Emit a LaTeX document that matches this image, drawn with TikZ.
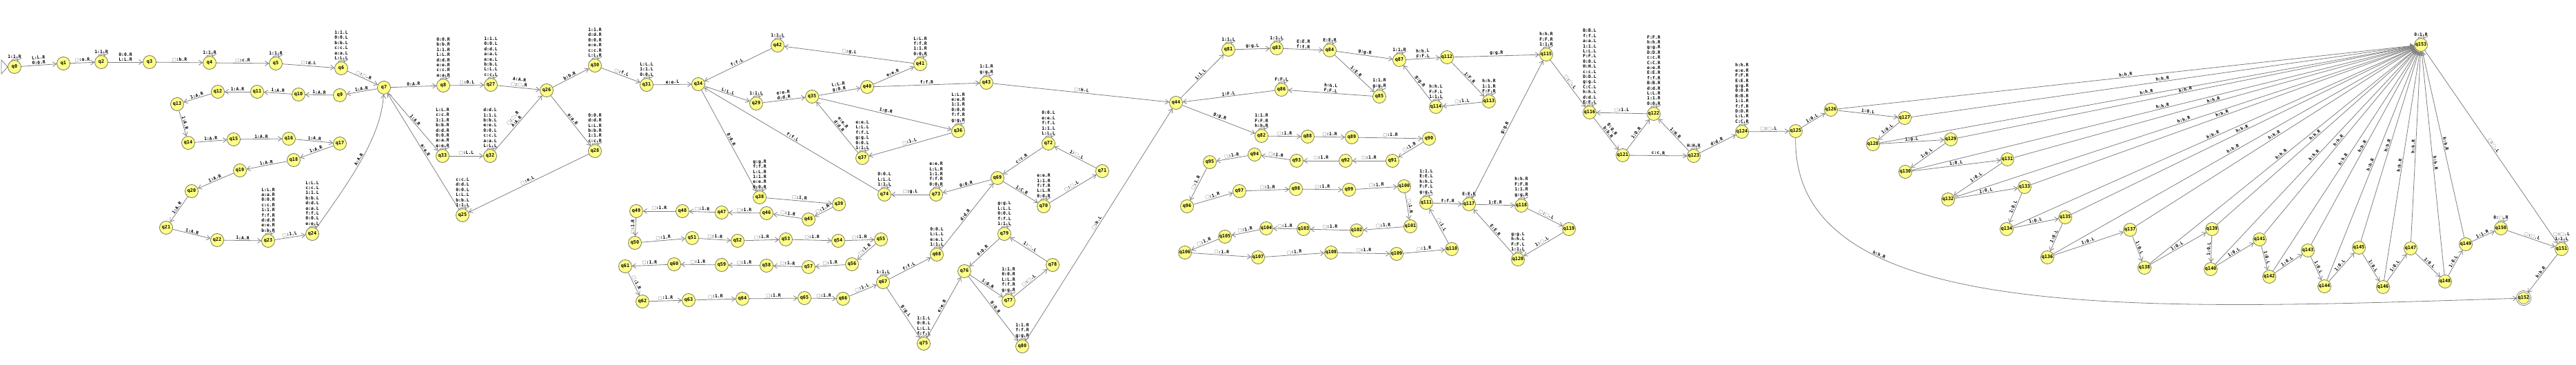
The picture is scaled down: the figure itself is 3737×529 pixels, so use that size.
\documentclass[tikz,border=0pt]{standalone}
\usepackage{fontspec}
\setmonofont{DejaVu Sans Mono}
\newfontfamily\blankfont{DejaVu Sans}
\usetikzlibrary{arrows.meta}
\definecolor{stfill}{RGB}{255,255,136}
\definecolor{stline}{RGB}{120,120,96}
\definecolor{edgegray}{RGB}{128,128,128}
\newcommand{\blk}{{\blankfont\mdseries\textcolor{edgegray}{□}}}
\begin{document}
\begin{tikzpicture}[x=0.5pt,y=0.5pt,
	tmstate/.style={circle,draw=stline,fill=stfill,line width=0.4pt,minimum size=9.5pt,inner sep=0pt,font=\ttfamily\bfseries\fontsize{3.4}{4}\selectfont},
	tmedge/.style={draw=edgegray,line width=0.4pt,-{Straight Barb[length=2.5pt,width=3.5pt]}},
	lbl/.style={font=\ttfamily\bfseries\fontsize{3.2}{3.7}\selectfont,sloped,auto,inner sep=0.5pt,align=center},
	looplbl/.style={font=\ttfamily\bfseries\fontsize{3.2}{3.7}\selectfont,above,inner sep=0.5pt,align=center},
	tmloop/.style={loop,out=115,in=65},
	every loop/.style={min distance=10pt,looseness=1}]
		\useasboundingbox (0,0) rectangle (3737,-529);
		% states
		\node[tmstate] (q0) at (21,-97) {q0};
		\node[tmstate] (q1) at (92,-92) {q1};
		\node[tmstate] (q2) at (147,-90) {q2};
		\node[tmstate] (q3) at (217,-90) {q3};
		\node[tmstate] (q4) at (304,-91) {q4};
		\node[tmstate] (q5) at (400,-92) {q5};
		\node[tmstate] (q6) at (495,-99) {q6};
		\node[tmstate] (q7) at (557,-127) {q7};
		\node[tmstate] (q8) at (643,-124) {q8};
		\node[tmstate] (q9) at (493,-138) {q9};
		\node[tmstate] (q10) at (433,-137) {q10};
		\node[tmstate] (q11) at (373,-133) {q11};
		\node[tmstate] (q12) at (316,-133) {q12};
		\node[tmstate] (q13) at (257,-151) {q13};
		\node[tmstate] (q14) at (273,-207) {q14};
		\node[tmstate] (q15) at (339,-202) {q15};
		\node[tmstate] (q16) at (419,-201) {q16};
		\node[tmstate] (q17) at (493,-208) {q17};
		\node[tmstate] (q18) at (426,-232) {q18};
		\node[tmstate] (q19) at (348,-247) {q19};
		\node[tmstate] (q20) at (278,-277) {q20};
		\node[tmstate] (q21) at (241,-330) {q21};
		\node[tmstate] (q22) at (315,-348) {q22};
		\node[tmstate] (q23) at (389,-349) {q23};
		\node[tmstate] (q24) at (453,-339) {q24};
		\node[tmstate] (q25) at (671,-312) {q25};
		\node[tmstate] (q26) at (793,-131) {q26};
		\node[tmstate] (q27) at (712,-123) {q27};
		\node[tmstate] (q28) at (863,-219) {q28};
		\node[tmstate] (q29) at (1097,-150) {q29};
		\node[tmstate] (q30) at (863,-95) {q30};
		\node[tmstate] (q31) at (938,-123) {q31};
		\node[tmstate] (q32) at (711,-226) {q32};
		\node[tmstate] (q33) at (642,-226) {q33};
		\node[tmstate] (q34) at (1013,-122) {q34};
		\node[tmstate] (q35) at (1178,-140) {q35};
		\node[tmstate] (q36) at (1390,-190) {q36};
		\node[tmstate] (q37) at (1251,-229) {q37};
		\node[tmstate] (q38) at (1102,-286) {q38};
		\node[tmstate] (q39) at (1217,-296) {q39};
		\node[tmstate] (q40) at (1258,-126) {q40};
		\node[tmstate] (q41) at (1335,-93) {q41};
		\node[tmstate] (q42) at (1128,-66) {q42};
		\node[tmstate] (q43) at (1431,-120) {q43};
		\node[tmstate] (q44) at (1706,-149) {q44};
		\node[tmstate] (q45) at (1173,-318) {q45};
		\node[tmstate] (q46) at (1112,-309) {q46};
		\node[tmstate] (q47) at (1047,-308) {q47};
		\node[tmstate] (q48) at (990,-306) {q48};
		\node[tmstate] (q49) at (923,-306) {q49};
		\node[tmstate] (q50) at (921,-352) {q50};
		\node[tmstate] (q51) at (1004,-345) {q51};
		\node[tmstate] (q52) at (1070,-349) {q52};
		\node[tmstate] (q53) at (1140,-347) {q53};
		\node[tmstate] (q54) at (1216,-349) {q54};
		\node[tmstate] (q55) at (1278,-347) {q55};
		\node[tmstate] (q56) at (1236,-383) {q56};
		\node[tmstate] (q57) at (1173,-387) {q57};
		\node[tmstate] (q58) at (1112,-385) {q58};
		\node[tmstate] (q59) at (1047,-384) {q59};
		\node[tmstate] (q60) at (978,-383) {q60};
		\node[tmstate] (q61) at (907,-386) {q61};
		\node[tmstate] (q62) at (932,-437) {q62};
		\node[tmstate] (q63) at (999,-435) {q63};
		\node[tmstate] (q64) at (1077,-433) {q64};
		\node[tmstate] (q65) at (1167,-432) {q65};
		\node[tmstate] (q66) at (1223,-433) {q66};
		\node[tmstate] (q67) at (1281,-409) {q67};
		\node[tmstate] (q68) at (1359,-369) {q68};
		\node[tmstate] (q69) at (1447,-258) {q69};
		\node[tmstate] (q70) at (1514,-299) {q70};
		\node[tmstate] (q71) at (1599,-248) {q71};
		\node[tmstate] (q72) at (1521,-208) {q72};
		\node[tmstate] (q73) at (1358,-282) {q73};
		\node[tmstate] (q74) at (1283,-282) {q74};
		\node[tmstate] (q75) at (1340,-498) {q75};
		\node[tmstate] (q76) at (1399,-393) {q76};
		\node[tmstate] (q77) at (1463,-436) {q77};
		\node[tmstate] (q78) at (1527,-384) {q78};
		\node[tmstate] (q79) at (1457,-339) {q79};
		\node[tmstate] (q80) at (1483,-502) {q80};
		\node[tmstate] (q81) at (1782,-72) {q81};
		\node[tmstate] (q82) at (1830,-197) {q82};
		\node[tmstate] (q83) at (1852,-70) {q83};
		\node[tmstate] (q84) at (1929,-73) {q84};
		\node[tmstate] (q85) at (2001,-140) {q85};
		\node[tmstate] (q86) at (1859,-130) {q86};
		\node[tmstate] (q87) at (2030,-87) {q87};
		\node[tmstate] (q88) at (1897,-198) {q88};
		\node[tmstate] (q89) at (1961,-199) {q89};
		\node[tmstate] (q90) at (2073,-201) {q90};
		\node[tmstate] (q91) at (2020,-233) {q91};
		\node[tmstate] (q92) at (1952,-233) {q92};
		\node[tmstate] (q93) at (1881,-233) {q93};
		\node[tmstate] (q94) at (1820,-224) {q94};
		\node[tmstate] (q95) at (1755,-235) {q95};
		\node[tmstate] (q96) at (1722,-299) {q96};
		\node[tmstate] (q97) at (1798,-277) {q97};
		\node[tmstate] (q98) at (1880,-274) {q98};
		\node[tmstate] (q99) at (1957,-275) {q99};
		\node[tmstate] (q100) at (2037,-270) {q100};
		\node[tmstate] (q101) at (2046,-328) {q101};
		\node[tmstate] (q102) at (1968,-334) {q102};
		\node[tmstate] (q103) at (1891,-332) {q103};
		\node[tmstate] (q104) at (1837,-331) {q104};
		\node[tmstate] (q105) at (1777,-343) {q105};
		\node[tmstate] (q106) at (1719,-366) {q106};
		\node[tmstate] (q107) at (1825,-373) {q107};
		\node[tmstate] (q108) at (1931,-366) {q108};
		\node[tmstate] (q109) at (2026,-368) {q109};
		\node[tmstate] (q110) at (2106,-361) {q110};
		\node[tmstate] (q111) at (2069,-294) {q111};
		\node[tmstate] (q112) at (2099,-83) {q112};
		\node[tmstate] (q113) at (2160,-147) {q113};
		\node[tmstate] (q114) at (2083,-155) {q114};
		\node[tmstate] (q115) at (2243,-79) {q115};
		\node[tmstate] (q116) at (2306,-163) {q116};
		\node[tmstate] (q117) at (2131,-296) {q117};
		\node[tmstate] (q118) at (2207,-298) {q118};
		\node[tmstate] (q119) at (2276,-332) {q119};
		\node[tmstate] (q120) at (2202,-376) {q120};
		\node[tmstate] (q121) at (2354,-225) {q121};
		\node[tmstate] (q122) at (2399,-165) {q122};
		\node[tmstate] (q123) at (2457,-226) {q123};
		\node[tmstate] (q124) at (2527,-191) {q124};
		\node[tmstate] (q125) at (2605,-190) {q125};
		\node[tmstate] (q126) at (2656,-159) {q126};
		\node[tmstate] (q127) at (2763,-171) {q127};
		\node[tmstate] (q128) at (2717,-209) {q128};
		\node[tmstate] (q129) at (2830,-202) {q129};
		\node[tmstate] (q130) at (2764,-249) {q130};
		\node[tmstate] (q131) at (2912,-231) {q131};
		\node[tmstate] (q132) at (2826,-289) {q132};
		\node[tmstate] (q133) at (2937,-271) {q133};
		\node[tmstate] (q134) at (2911,-332) {q134};
		\node[tmstate] (q135) at (2996,-315) {q135};
		\node[tmstate] (q136) at (2970,-373) {q136};
		\node[tmstate] (q137) at (3090,-333) {q137};
		\node[tmstate] (q138) at (3111,-388) {q138};
		\node[tmstate] (q139) at (3209,-332) {q139};
		\node[tmstate] (q140) at (3207,-390) {q140};
		\node[tmstate] (q141) at (3278,-347) {q141};
		\node[tmstate] (q142) at (3292,-401) {q142};
		\node[tmstate] (q143) at (3348,-363) {q143};
		\node[tmstate] (q144) at (3372,-415) {q144};
		\node[tmstate] (q145) at (3422,-359) {q145};
		\node[tmstate] (q146) at (3457,-416) {q146};
		\node[tmstate] (q147) at (3497,-360) {q147};
		\node[tmstate] (q148) at (3547,-408) {q148};
		\node[tmstate] (q149) at (3577,-354) {q149};
		\node[tmstate] (q150) at (3628,-331) {q150};
		\node[tmstate] (q151) at (3716,-361) {q151};
		\node[tmstate,double,double distance=0.7pt] (q152) at (3661,-432) {q152};
		\node[tmstate] (q153) at (3512,-65) {q153};
		% start marker
		\coordinate (init1) at (2,-87);
		\coordinate (init2) at (2,-107);
		\draw[draw=edgegray,line width=0.4pt] (q0.west) -- (init1) -- (init2) -- cycle;
		% marking the input
		\draw[tmedge] (q0) to[tmloop] node[looplbl]{1:1.R} (q0);
		\draw[tmedge] (q0) -- node[lbl]{L:L.R\\0:0.R} (q1);
		\draw[tmedge] (q1) -- node[lbl]{\blk:a.R} (q2);
		\draw[tmedge] (q2) to[tmloop] node[looplbl]{1:1.R} (q2);
		\draw[tmedge] (q2) -- node[lbl]{0:0.R\\L:L.R} (q3);
		\draw[tmedge] (q3) -- node[lbl]{\blk:b.R} (q4);
		\draw[tmedge] (q4) to[tmloop] node[looplbl]{1:1.R} (q4);
		\draw[tmedge] (q4) -- node[lbl]{\blk:c.R} (q5);
		\draw[tmedge] (q5) to[tmloop] node[looplbl]{1:1.R} (q5);
		\draw[tmedge] (q5) -- node[lbl]{\blk:d.L} (q6);
		\draw[tmedge] (q6) to[tmloop] node[looplbl]{1:1.L\\0:0.L\\b:b.L\\c:c.L\\a:a.L\\L:L.L} (q6);
		\draw[tmedge] (q6) -- node[lbl]{\blk:\blk.R} (q7);
		% the 1:A.R chain
		\draw[tmedge] (q7) -- node[lbl]{1:A.R} (q9);
		\draw[tmedge] (q9) -- node[lbl]{1:A.R} (q10);
		\draw[tmedge] (q10) -- node[lbl]{1:A.R} (q11);
		\draw[tmedge] (q11) -- node[lbl]{1:A.R} (q12);
		\draw[tmedge] (q12) -- node[lbl]{1:A.R} (q13);
		\draw[tmedge] (q13) -- node[lbl]{1:A.R} (q14);
		\draw[tmedge] (q14) -- node[lbl]{1:A.R} (q15);
		\draw[tmedge] (q15) -- node[lbl]{1:A.R} (q16);
		\draw[tmedge] (q16) -- node[lbl]{1:A.R} (q17);
		\draw[tmedge] (q17) -- node[lbl]{1:A.R} (q18);
		\draw[tmedge] (q18) -- node[lbl]{1:A.R} (q19);
		\draw[tmedge] (q19) -- node[lbl]{1:A.R} (q20);
		\draw[tmedge] (q20) -- node[lbl]{1:A.R} (q21);
		\draw[tmedge] (q21) -- node[lbl]{1:A.R} (q22);
		\draw[tmedge] (q22) -- node[lbl]{1:A.R} (q23);
		\draw[tmedge] (q23) to[tmloop] node[looplbl]{L:L.R\\a:a.R\\0:0.R\\c:c.R\\1:1.R\\f:f.R\\d:d.R\\e:e.R\\b:b.R} (q23);
		\draw[tmedge] (q23) -- node[lbl]{\blk:1.L} (q24);
		\draw[tmedge] (q24) to[tmloop] node[looplbl]{L:L.L\\c:c.L\\1:1.L\\b:b.L\\d:d.L\\a:a.L\\f:f.L\\0:0.L\\e:e.L} (q24);
		\draw[tmedge] (q24) .. controls (505,-265) and (553,-200) .. node[lbl]{A:A.R} (q7);
		% second block
		\draw[tmedge] (q7) -- node[lbl]{0:A.R} (q8);
		\draw[tmedge] (q7) -- node[lbl]{1:A.R} (q33);
		\draw[tmedge] (q25) -- node[lbl]{a:a.R} (q7);
		\draw[tmedge] (q8) to[tmloop] node[looplbl]{0:0.R\\b:b.R\\1:1.R\\L:L.R\\d:d.R\\e:e.R\\c:c.R\\a:a.R} (q8);
		\draw[tmedge] (q8) -- node[lbl]{\blk:0.L} (q27);
		\draw[tmedge] (q27) to[tmloop] node[looplbl]{1:1.L\\0:0.L\\d:d.L\\a:a.L\\e:e.L\\b:b.L\\L:L.L\\c:c.L} (q27);
		\draw[tmedge] (q27) -- node[lbl]{A:A.R\\\blk:\blk.R} (q26);
		\draw[tmedge] (q33) to[tmloop] node[looplbl]{L:L.R\\c:c.R\\1:1.R\\b:b.R\\d:d.R\\0:0.R\\a:a.R\\e:e.R} (q33);
		\draw[tmedge] (q33) -- node[lbl]{\blk:L.L} (q32);
		\draw[tmedge] (q32) to[tmloop] node[looplbl]{d:d.L\\1:1.L\\b:b.L\\e:e.L\\0:0.L\\c:c.L\\a:a.L\\L:L.L} (q32);
		\draw[tmedge] (q32) -- node[lbl]{\blk:\blk.R\\A:A.R} (q26);
		\draw[tmedge] (q26) -- node[lbl]{b:b.R} (q30);
		\draw[tmedge] (q30) to[tmloop] node[looplbl]{1:1.R\\d:d.R\\0:0.R\\e:e.R\\c:c.R\\L:L.R} (q30);
		\draw[tmedge] (q30) -- node[lbl]{\blk:f.L} (q31);
		\draw[tmedge] (q26) -- node[lbl]{a:a.R} (q28);
		\draw[tmedge] (q28) to[tmloop] node[looplbl]{0:0.R\\d:d.R\\L:L.R\\b:b.R\\1:1.R\\c:c.R} (q28);
		\draw[tmedge] (q28) -- node[lbl]{\blk:e.L} (q25);
		\draw[tmedge] (q25) to[tmloop] node[looplbl]{c:c.L\\d:d.L\\0:0.L\\L:L.L\\b:b.L\\1:1.L} (q25);
		\draw[tmedge] (q31) to[tmloop] node[looplbl]{L:L.L\\1:1.L\\0:0.L} (q31);
		\draw[tmedge] (q31) -- node[lbl]{e:e.L} (q34);
		% third block
		\draw[tmedge] (q42) -- node[lbl]{f:f.L} (q34);
		\draw[tmedge] (q42) to[tmloop] node[looplbl]{1:1.L} (q42);
		\draw[tmedge] (q41) -- node[lbl]{\blk:g.L} (q42);
		\draw[tmedge] (q34) -- node[lbl]{L:L.L} (q29);
		\draw[tmedge] (q29) to[tmloop] node[looplbl]{1:1.L} (q29);
		\draw[tmedge] (q29) -- node[lbl]{e:e.R\\d:d.R} (q35);
		\draw[tmedge] (q35) -- node[lbl]{L:L.R\\0:0.R} (q40);
		\draw[tmedge] (q35) -- node[lbl]{1:g.R} (q36);
		\draw[tmedge] (q37) -- node[lbl]{e:e.R\\d:d.R} (q35);
		\draw[tmedge] (q74) -- node[lbl]{f:f.L} (q34);
		\draw[tmedge] (q34) -- node[lbl]{0:0.R} (q38);
		\draw[tmedge] (q38) to[tmloop] node[looplbl]{g:g.R\\f:f.R\\L:L.R\\1:1.R\\e:e.R\\0:0.R} (q38);
		\draw[tmedge] (q40) -- node[lbl]{e:e.R} (q41);
		\draw[tmedge] (q41) to[tmloop] node[looplbl]{L:L.R\\f:f.R\\1:1.R\\0:0.R} (q41);
		\draw[tmedge] (q40) -- node[lbl]{f:f.R} (q43);
		\draw[tmedge] (q43) to[tmloop] node[looplbl]{1:1.R\\g:g.R} (q43);
		\draw[tmedge] (q43) -- node[lbl]{\blk:h.L} (q44);
		\draw[tmedge] (q36) to[tmloop] node[looplbl]{L:L.R\\e:e.R\\1:1.R\\0:0.R\\f:f.R\\g:g.R} (q36);
		\draw[tmedge] (q36) -- node[lbl]{\blk:1.L} (q37);
		\draw[tmedge] (q37) to[tmloop] node[looplbl]{e:e.L\\L:L.L\\f:f.L\\g:g.L\\0:0.L\\1:1.L} (q37);
		% the blank:1.R chain
		\draw[tmedge] (q38) -- node[lbl]{\blk:1.R} (q39);
		\draw[tmedge] (q39) -- node[lbl]{\blk:1.R} (q45);
		\draw[tmedge] (q45) -- node[lbl]{\blk:1.R} (q46);
		\draw[tmedge] (q46) -- node[lbl]{\blk:1.R} (q47);
		\draw[tmedge] (q47) -- node[lbl]{\blk:1.R} (q48);
		\draw[tmedge] (q48) -- node[lbl]{\blk:1.R} (q49);
		\draw[tmedge] (q49) -- node[lbl]{\blk:1.R} (q50);
		\draw[tmedge] (q50) -- node[lbl]{\blk:1.R} (q51);
		\draw[tmedge] (q51) -- node[lbl]{\blk:1.R} (q52);
		\draw[tmedge] (q52) -- node[lbl]{\blk:1.R} (q53);
		\draw[tmedge] (q53) -- node[lbl]{\blk:1.R} (q54);
		\draw[tmedge] (q54) -- node[lbl]{\blk:1.R} (q55);
		\draw[tmedge] (q55) -- node[lbl]{\blk:1.R} (q56);
		\draw[tmedge] (q56) -- node[lbl]{\blk:1.R} (q57);
		\draw[tmedge] (q57) -- node[lbl]{\blk:1.R} (q58);
		\draw[tmedge] (q58) -- node[lbl]{\blk:1.R} (q59);
		\draw[tmedge] (q59) -- node[lbl]{\blk:1.R} (q60);
		\draw[tmedge] (q60) -- node[lbl]{\blk:1.R} (q61);
		\draw[tmedge] (q61) -- node[lbl]{\blk:1.R} (q62);
		\draw[tmedge] (q62) -- node[lbl]{\blk:1.R} (q63);
		\draw[tmedge] (q63) -- node[lbl]{\blk:1.R} (q64);
		\draw[tmedge] (q64) -- node[lbl]{\blk:1.R} (q65);
		\draw[tmedge] (q65) -- node[lbl]{\blk:1.R} (q66);
		\draw[tmedge] (q66) -- node[lbl]{\blk:1.L} (q67);
		% fourth block
		\draw[tmedge] (q67) to[tmloop] node[looplbl]{1:1.L} (q67);
		\draw[tmedge] (q67) -- node[lbl]{f:f.L} (q68);
		\draw[tmedge] (q68) to[tmloop] node[looplbl]{0:0.L\\L:L.L\\e:e.L\\1:1.L} (q68);
		\draw[tmedge] (q68) -- node[lbl]{d:d.R} (q69);
		\draw[tmedge] (q69) -- node[lbl]{0:0.R} (q73);
		\draw[tmedge] (q73) to[tmloop] node[looplbl]{e:e.R\\L:L.R\\1:1.R\\f:f.R\\0:0.R} (q73);
		\draw[tmedge] (q73) -- node[lbl]{\blk:g.L} (q74);
		\draw[tmedge] (q74) to[tmloop] node[looplbl]{0:0.L\\L:L.L\\1:1.L} (q74);
		\draw[tmedge] (q72) -- node[lbl]{c:c.R} (q69);
		\draw[tmedge] (q72) to[tmloop] node[looplbl]{0:0.L\\e:e.L\\f:f.L\\1:1.L\\L:L.L} (q72);
		\draw[tmedge] (q69) -- node[lbl]{1:C.R} (q70);
		\draw[tmedge] (q70) to[tmloop] node[looplbl]{e:e.R\\1:1.R\\f:f.R\\L:L.R\\0:0.R} (q70);
		\draw[tmedge] (q70) -- node[lbl]{\blk:\blk.L} (q71);
		\draw[tmedge] (q71) -- node[lbl]{1:\blk.L} (q72);
		\draw[tmedge] (q67) -- node[lbl]{g:g.L} (q75);
		\draw[tmedge] (q75) to[tmloop] node[looplbl]{1:1.L\\0:0.L\\L:L.L\\f:f.L} (q75);
		\draw[tmedge] (q75) -- node[lbl]{e:e.R} (q76);
		\draw[tmedge] (q76) -- node[lbl]{1:0.R} (q77);
		\draw[tmedge] (q77) to[tmloop] node[looplbl]{1:1.R\\0:0.R\\L:L.R\\f:f.R\\g:g.R} (q77);
		\draw[tmedge] (q77) -- node[lbl]{\blk:\blk.L} (q78);
		\draw[tmedge] (q78) -- node[lbl]{1:\blk.L} (q79);
		\draw[tmedge] (q79) to[tmloop] node[looplbl]{g:g.L\\L:L.L\\0:0.L\\f:f.L\\1:1.L} (q79);
		\draw[tmedge] (q79) -- node[lbl]{0:0.R} (q76);
		\draw[tmedge] (q76) -- node[lbl]{0:0.R} (q80);
		\draw[tmedge] (q80) to[tmloop] node[looplbl]{1:1.R\\f:f.R\\g:g.R} (q80);
		\draw[tmedge] (q80) -- node[lbl]{\blk:h.L} (q44);
		% fifth block
		\draw[tmedge] (q44) -- node[lbl]{1:1.L} (q81);
		\draw[tmedge] (q81) to[tmloop] node[looplbl]{1:1.L} (q81);
		\draw[tmedge] (q81) -- node[lbl]{g:g.L} (q83);
		\draw[tmedge] (q83) to[tmloop] node[looplbl]{1:1.L} (q83);
		\draw[tmedge] (q83) -- node[lbl]{E:E.R\\f:f.R} (q84);
		\draw[tmedge] (q84) to[tmloop] node[looplbl]{E:E.R} (q84);
		\draw[tmedge] (q84) -- node[lbl]{g:g.R} (q87);
		\draw[tmedge] (q84) -- node[lbl]{1:E.R} (q85);
		\draw[tmedge] (q85) to[tmloop] node[looplbl]{1:1.R\\g:g.R} (q85);
		\draw[tmedge] (q85) -- node[lbl]{h:h.L\\F:F.L} (q86);
		\draw[tmedge] (q86) to[tmloop] node[looplbl]{F:F.L} (q86);
		\draw[tmedge] (q86) -- node[lbl]{1:F.L} (q44);
		\draw[tmedge] (q87) to[tmloop] node[looplbl]{1:1.R} (q87);
		\draw[tmedge] (q87) -- node[lbl]{h:h.L\\F:F.L} (q112);
		\draw[tmedge] (q112) -- node[lbl]{1:F.R} (q113);
		\draw[tmedge] (q113) to[tmloop] node[looplbl]{h:h.R\\1:1.R\\F:F.R} (q113);
		\draw[tmedge] (q113) -- node[lbl]{\blk:1.L} (q114);
		\draw[tmedge] (q114) to[tmloop] node[looplbl]{h:h.L\\F:F.L\\1:1.L} (q114);
		\draw[tmedge] (q114) -- node[lbl]{g:g.R} (q87);
		\draw[tmedge] (q112) -- node[lbl]{g:g.R} (q115);
		\draw[tmedge] (q115) to[tmloop] node[looplbl]{h:h.R\\F:F.R\\1:1.R} (q115);
		\draw[tmedge] (q115) -- node[lbl]{\blk:\blk.L} (q116);
		\draw[tmedge] (q44) -- node[lbl]{g:g.R} (q82);
		\draw[tmedge] (q82) to[tmloop] node[looplbl]{1:1.R\\F:F.R\\h:h.R} (q82);
		% second blank:1.R chain
		\draw[tmedge] (q82) -- node[lbl]{\blk:1.R} (q88);
		\draw[tmedge] (q88) -- node[lbl]{\blk:1.R} (q89);
		\draw[tmedge] (q89) -- node[lbl]{\blk:1.R} (q90);
		\draw[tmedge] (q90) -- node[lbl]{\blk:1.R} (q91);
		\draw[tmedge] (q91) -- node[lbl]{\blk:1.R} (q92);
		\draw[tmedge] (q92) -- node[lbl]{\blk:1.R} (q93);
		\draw[tmedge] (q93) -- node[lbl]{\blk:1.R} (q94);
		\draw[tmedge] (q94) -- node[lbl]{\blk:1.R} (q95);
		\draw[tmedge] (q95) -- node[lbl]{\blk:1.R} (q96);
		\draw[tmedge] (q96) -- node[lbl]{\blk:1.R} (q97);
		\draw[tmedge] (q97) -- node[lbl]{\blk:1.R} (q98);
		\draw[tmedge] (q98) -- node[lbl]{\blk:1.R} (q99);
		\draw[tmedge] (q99) -- node[lbl]{\blk:1.R} (q100);
		\draw[tmedge] (q100) -- node[lbl]{\blk:1.R} (q101);
		\draw[tmedge] (q101) -- node[lbl]{\blk:1.R} (q102);
		\draw[tmedge] (q102) -- node[lbl]{\blk:1.R} (q103);
		\draw[tmedge] (q103) -- node[lbl]{\blk:1.R} (q104);
		\draw[tmedge] (q104) -- node[lbl]{\blk:1.R} (q105);
		\draw[tmedge] (q105) -- node[lbl]{\blk:1.R} (q106);
		\draw[tmedge] (q106) -- node[lbl]{\blk:1.R} (q107);
		\draw[tmedge] (q107) -- node[lbl]{\blk:1.R} (q108);
		\draw[tmedge] (q108) -- node[lbl]{\blk:1.R} (q109);
		\draw[tmedge] (q109) -- node[lbl]{\blk:1.R} (q110);
		\draw[tmedge] (q110) -- node[lbl]{\blk:1.L} (q111);
		\draw[tmedge] (q111) to[tmloop] node[looplbl]{1:1.L\\E:E.L\\h:h.L\\F:F.L\\g:g.L} (q111);
		\draw[tmedge] (q111) -- node[lbl]{f:f.R} (q117);
		\draw[tmedge] (q117) to[tmloop] node[looplbl]{E:E.R} (q117);
		\draw[tmedge] (q117) -- node[lbl]{g:g.R} (q115);
		\draw[tmedge] (q117) -- node[lbl]{1:E.R} (q118);
		\draw[tmedge] (q118) to[tmloop] node[looplbl]{h:h.R\\F:F.R\\1:1.R\\g:g.R} (q118);
		\draw[tmedge] (q118) -- node[lbl]{\blk:\blk.L} (q119);
		\draw[tmedge] (q119) -- node[lbl]{1:\blk.L} (q120);
		\draw[tmedge] (q120) to[tmloop] node[looplbl]{g:g.L\\h:h.L\\F:F.L\\1:1.L} (q120);
		\draw[tmedge] (q120) -- node[lbl]{E:E.R} (q117);
		% sixth block
		\draw[tmedge] (q116) to[tmloop] node[looplbl]{B:B.L\\f:f.L\\a:a.L\\1:1.L\\L:L.L\\F:F.L\\0:0.L\\H:H.L\\c:c.L\\D:D.L\\g:g.L\\C:C.L\\h:h.L\\d:d.L\\E:E.L} (q116);
		\draw[tmedge] (q116) -- node[lbl]{0:0.R\\b:b.R} (q121);
		\draw[tmedge] (q121) -- node[lbl]{1:0.R} (q122);
		\draw[tmedge] (q122) -- node[lbl]{\blk:1.L} (q116);
		\draw[tmedge] (q122) to[tmloop] node[looplbl]{F:F.R\\h:h.R\\g:g.R\\D:D.R\\c:c.R\\C:C.R\\e:e.R\\E:E.R\\f:f.R\\B:B.R\\d:d.R\\L:L.R\\1:1.R\\0:0.R} (q122);
		\draw[tmedge] (q121) -- node[lbl]{c:c.R} (q123);
		\draw[tmedge] (q123) -- node[lbl]{1:H.R} (q122);
		\draw[tmedge] (q123) to[tmloop] node[looplbl]{H:H.R} (q123);
		\draw[tmedge] (q123) -- node[lbl]{d:d.R} (q124);
		\draw[tmedge] (q124) to[tmloop] node[looplbl]{h:h.R\\e:e.R\\F:F.R\\E:E.R\\g:g.R\\0:0.R\\B:B.R\\1:1.R\\f:f.R\\D:D.R\\L:L.R\\C:C.R} (q124);
		\draw[tmedge] (q124) -- node[lbl]{\blk:\blk.L} (q125);
		\draw[tmedge] (q125) .. controls (2600,-470) and (3100,-450) .. node[lbl,pos=0.3]{h:h.R} (q152);
		% the 1:0.L zigzag
		\draw[tmedge] (q125) -- node[lbl]{1:0.L} (q126);
		\draw[tmedge] (q126) -- node[lbl]{1:0.L} (q127);
		\draw[tmedge] (q127) -- node[lbl]{1:0.L} (q128);
		\draw[tmedge] (q128) -- node[lbl]{1:0.L} (q129);
		\draw[tmedge] (q129) -- node[lbl]{1:0.L} (q130);
		\draw[tmedge] (q130) -- node[lbl]{1:0.L} (q131);
		\draw[tmedge] (q131) -- node[lbl]{1:0.L} (q132);
		\draw[tmedge] (q132) -- node[lbl]{1:0.L} (q133);
		\draw[tmedge] (q133) -- node[lbl]{1:0.L} (q134);
		\draw[tmedge] (q134) -- node[lbl]{1:0.L} (q135);
		\draw[tmedge] (q135) -- node[lbl]{1:0.L} (q136);
		\draw[tmedge] (q136) -- node[lbl]{1:0.L} (q137);
		\draw[tmedge] (q137) -- node[lbl]{1:0.L} (q138);
		\draw[tmedge] (q138) -- node[lbl]{1:0.L} (q139);
		\draw[tmedge] (q139) -- node[lbl]{1:0.L} (q140);
		\draw[tmedge] (q140) -- node[lbl]{1:0.L} (q141);
		\draw[tmedge] (q141) -- node[lbl]{1:0.L} (q142);
		\draw[tmedge] (q142) -- node[lbl]{1:0.L} (q143);
		\draw[tmedge] (q143) -- node[lbl]{1:0.L} (q144);
		\draw[tmedge] (q144) -- node[lbl]{1:0.L} (q145);
		\draw[tmedge] (q145) -- node[lbl]{1:0.L} (q146);
		\draw[tmedge] (q146) -- node[lbl]{1:0.L} (q147);
		\draw[tmedge] (q147) -- node[lbl]{1:0.L} (q148);
		\draw[tmedge] (q148) -- node[lbl]{1:0.L} (q149);
		\draw[tmedge] (q149) -- node[lbl]{1:1.R} (q150);
		\draw[tmedge] (q150) to[tmloop] node[looplbl]{0:\blk.R} (q150);
		\draw[tmedge] (q150) -- node[lbl]{\blk:\blk.L} (q151);
		\draw[tmedge] (q151) to[tmloop] node[looplbl]{\blk:\blk.L\\1:1.L} (q151);
		\draw[tmedge] (q151) -- node[lbl]{h:h.R} (q152);
		\draw[tmedge] (q153) to[tmloop] node[looplbl]{0:1.R} (q153);
		\draw[tmedge] (q153) -- node[lbl]{\blk:\blk.L} (q151);
		% the h:h.R fan
		\draw[tmedge] (q126) -- node[lbl]{h:h.R} (q153);
		\draw[tmedge] (q127) -- node[lbl]{h:h.R} (q153);
		\draw[tmedge] (q128) -- node[lbl]{h:h.R} (q153);
		\draw[tmedge] (q129) -- node[lbl]{h:h.R} (q153);
		\draw[tmedge] (q130) -- node[lbl]{h:h.R} (q153);
		\draw[tmedge] (q131) -- node[lbl]{h:h.R} (q153);
		\draw[tmedge] (q132) -- node[lbl]{h:h.R} (q153);
		\draw[tmedge] (q133) -- node[lbl]{h:h.R} (q153);
		\draw[tmedge] (q134) -- node[lbl]{h:h.R} (q153);
		\draw[tmedge] (q135) -- node[lbl]{h:h.R} (q153);
		\draw[tmedge] (q136) -- node[lbl]{h:h.R} (q153);
		\draw[tmedge] (q137) -- node[lbl]{h:h.R} (q153);
		\draw[tmedge] (q138) -- node[lbl]{h:h.R} (q153);
		\draw[tmedge] (q139) -- node[lbl]{h:h.R} (q153);
		\draw[tmedge] (q140) -- node[lbl]{h:h.R} (q153);
		\draw[tmedge] (q141) -- node[lbl]{h:h.R} (q153);
		\draw[tmedge] (q142) -- node[lbl]{h:h.R} (q153);
		\draw[tmedge] (q143) -- node[lbl]{h:h.R} (q153);
		\draw[tmedge] (q144) -- node[lbl]{h:h.R} (q153);
		\draw[tmedge] (q145) -- node[lbl]{h:h.R} (q153);
		\draw[tmedge] (q146) -- node[lbl]{h:h.R} (q153);
		\draw[tmedge] (q147) -- node[lbl]{h:h.R} (q153);
		\draw[tmedge] (q148) -- node[lbl]{h:h.R} (q153);
		\draw[tmedge] (q149) -- node[lbl]{h:h.R} (q153);
\end{tikzpicture}
\end{document}
